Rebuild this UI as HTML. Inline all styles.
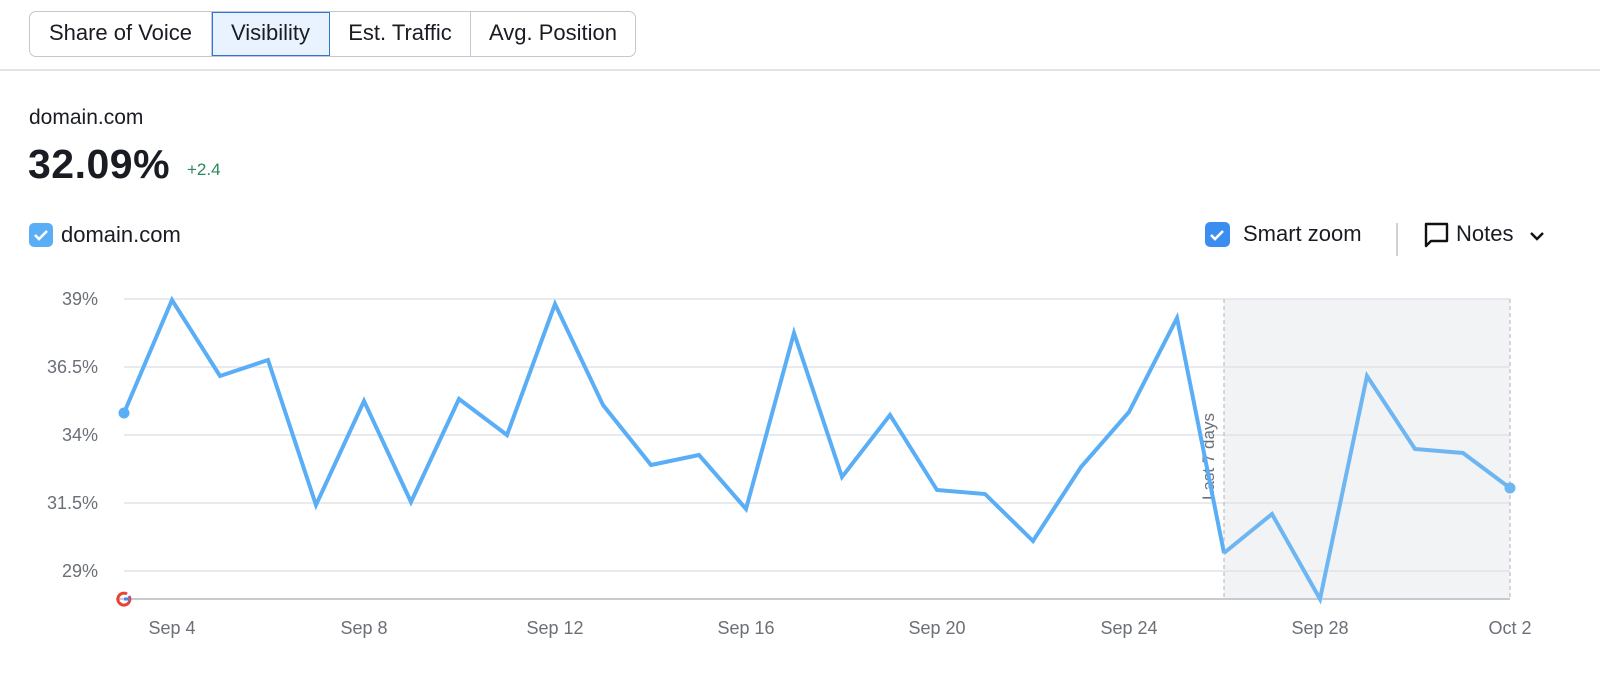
<!DOCTYPE html>
<html><head><meta charset="utf-8"><style>
body{margin:0;width:1600px;height:684px;background:#fff;font-family:"Liberation Sans",sans-serif;position:relative;overflow:hidden;color:#1a1c23}
.tabs{position:absolute;left:29px;top:11px;height:44px;display:flex;border:1px solid #c4c7cf;border-radius:7px;overflow:hidden}
.tab{font-size:22px;line-height:42px;text-align:center;border-right:1px solid #c4c7cf;color:#1a1c23;box-sizing:border-box}
.tab:last-child{border-right:none}
.tab.act{background:#e9f2ff;outline:1.5px solid #2e74d9;outline-offset:-1.5px}
</style></head><body>
<div class="tabs"><div class="tab" style="width:182px">Share of Voice</div><div class="tab act" style="width:118px">Visibility</div><div class="tab" style="width:141px">Est. Traffic</div><div class="tab" style="width:164px">Avg. Position</div></div>
<div style="position:absolute;left:0;top:69px;width:1600px;height:2px;background:#e3e4e8"></div>
<div style="position:absolute;left:29px;top:106px;font-size:21px">domain.com</div>
<div style="position:absolute;left:28px;top:141px;font-size:41px;font-weight:bold;letter-spacing:0.5px">32.09%</div>
<div style="position:absolute;left:187px;top:160px;font-size:17px;color:#2a8a5c">+2.4</div>
<svg width="1600" height="684" style="position:absolute;left:0;top:0" font-family="Liberation Sans, sans-serif">
<rect x="29" y="223" width="24" height="24" rx="5" fill="#5aaef5"/>
<path d="M35 235 l4 4 l8 -8" stroke="#fff" stroke-width="2.6" fill="none"/>
<text x="61" y="242" font-size="22" fill="#1a1c23">domain.com</text>
<rect x="1205" y="222" width="25" height="25" rx="5" fill="#3b8ef0"/>
<path d="M1211 235 l4 4 l8 -8" stroke="#fff" stroke-width="2.6" fill="none"/>
<text x="1243" y="241" font-size="22" fill="#1a1c23">Smart zoom</text>
<line x1="1397" y1="223" x2="1397" y2="256" stroke="#cfd1d6" stroke-width="2"/>
<path d="M1426 224 h21 v17 h-16 l-5 5 z" fill="none" stroke="#111" stroke-width="2.4" stroke-linejoin="round"/>
<text x="1456" y="241" font-size="22" fill="#1a1c23">Notes</text>
<path d="M1531 233 l6 6 l6 -6" stroke="#111" stroke-width="2.4" fill="none"/>
<rect x="1224" y="299" width="286" height="300" fill="#f2f3f5"/>
<g stroke="#e1e3e7" stroke-width="1.5">
<line x1="124" y1="299" x2="1510" y2="299"/><line x1="124" y1="367" x2="1510" y2="367"/>
<line x1="124" y1="435" x2="1510" y2="435"/><line x1="124" y1="503" x2="1510" y2="503"/>
<line x1="124" y1="571" x2="1510" y2="571"/></g>
<line x1="116" y1="599" x2="1510" y2="599" stroke="#c8cad0" stroke-width="2"/>
<g stroke="#bbbec5" stroke-dasharray="4,3" stroke-width="1.2"><line x1="1224" y1="299" x2="1224" y2="599"/><line x1="1510" y1="299" x2="1510" y2="599"/></g>
<g font-size="18" fill="#6b6f78" text-anchor="end">
<text x="98" y="305">39%</text><text x="98" y="373">36.5%</text><text x="98" y="441">34%</text><text x="98" y="509">31.5%</text><text x="98" y="577">29%</text></g>
<g font-size="18" fill="#6b6f78" text-anchor="middle">
<text x="172" y="634">Sep 4</text><text x="364" y="634">Sep 8</text><text x="555" y="634">Sep 12</text><text x="746" y="634">Sep 16</text><text x="937" y="634">Sep 20</text><text x="1129" y="634">Sep 24</text><text x="1320" y="634">Sep 28</text><text x="1510" y="634">Oct 2</text></g>
<text transform="translate(1214,500) rotate(-90)" font-size="17" fill="#6b6f78">Last 7 days</text>
<polyline fill="none" stroke="#5aaef5" stroke-width="4" stroke-linejoin="miter" points="124,413 172,300 220,376 268,360 316,505 364,401 411,502 459,399 507,435 555,304 603,405 651,465 699,455 746,509 794,333 842,477 890,415 937,490 985,494 1033,541 1081,467 1129,412 1177,318 1224,553"/>
<polyline fill="none" stroke="#6db6f2" stroke-width="4" points="1224,553 1272,514 1320,599 1367,376 1415,449 1463,453 1510,488"/>
<circle cx="124" cy="413" r="5.5" fill="#5aaef5"/><circle cx="1510" cy="488" r="5.5" fill="#6db6f2"/>
<g transform="translate(124,599)" fill="none" stroke-width="3">
<path d="M5 -3 A6 6 0 1 1 3 -5" stroke="#ea4335"/><path d="M0 0 h6" stroke="#4285f4"/></g>
</svg>
</body></html>
